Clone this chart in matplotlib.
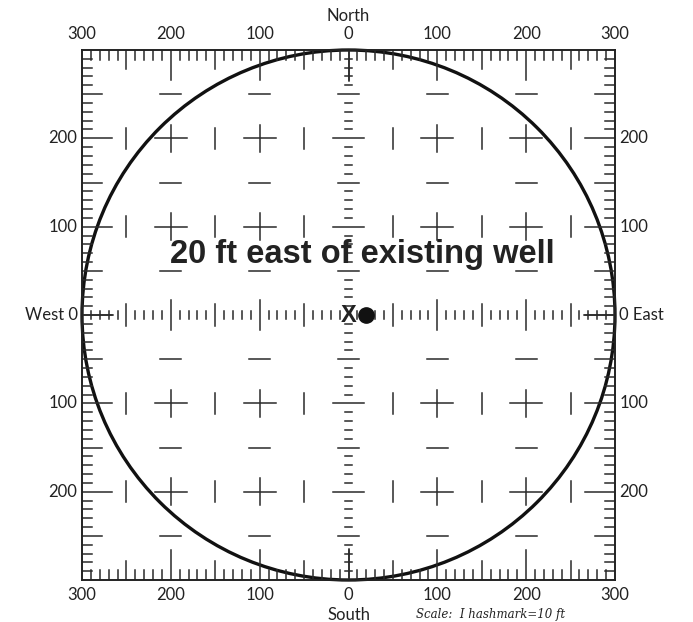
import numpy as np
import matplotlib
matplotlib.use("Agg")
import matplotlib.pyplot as plt

# axis labels (distance in ft from the existing well)
tick_pos = [-300, -200, -100, 0, 100, 200, 300]
top_labels = ["300", "200", "100", "0", "100", "200", "300"]
side_pos = [200, 100, 0, -100, -200]
left_labels = ["200", "100", "West 0", "100", "200"]
right_labels = ["200", "100", "0 East", "100", "200"]

radius = 300
existing_well = (0, 0)
new_well = (20, 0)
title = "20 ft east of existing well"
scale_note = "Scale:  I hashmark=10 ft"

fig = plt.figure(figsize=(6.93, 6.22), dpi=100)
ax = fig.add_axes([82 / 693, 42 / 622, 533 / 693, 530 / 622])
ax.set_xlim(-300, 300)
ax.set_ylim(-300, 300)
ax.set_xticks([])
ax.set_yticks([])
for s in ax.spines.values():
    s.set_linewidth(1.4)
    s.set_color("#222222")

ink = "#2a2a2a"
lw = 1.1

def tick_len(v, small, mid, big):
    if v % 100 == 0:
        return big
    if v % 50 == 0:
        return mid
    return small

hash_vals = np.arange(-290, 300, 10)

# hashmarks along the frame, pointing inward
for v in hash_vals:
    L = tick_len(v, 11, 22, 34)
    ax.plot([v, v], [300, 300 - L], color=ink, lw=lw)
    ax.plot([v, v], [-300, -300 + L], color=ink, lw=lw)
    ax.plot([-300, -300 + L], [v, v], color=ink, lw=lw)
    ax.plot([300, 300 - L], [v, v], color=ink, lw=lw)

# hashmarks along the north-south and east-west lines
for v in hash_vals:
    if v == 0:
        continue
    h = tick_len(v, 4.5, 12, 17)
    ax.plot([-h, h], [v, v], color=ink, lw=lw)
    ax.plot([v, v], [-h, h], color=ink, lw=lw)
for a, b in [(-300, -265), (265, 300)]:
    ax.plot([a, b], [0, 0], color=ink, lw=lw)
    ax.plot([0, 0], [a, b], color=ink, lw=lw)

# interior grid marks
for y in [-200, -100, 100, 200]:
    for x in [-200, -100, 100, 200]:
        ax.plot([x - 18, x + 18], [y, y], color=ink, lw=lw)
        ax.plot([x, x], [y - 15, y + 15], color=ink, lw=lw)
    for x in [-250, -150, -50, 50, 150, 250]:
        ax.plot([x, x], [y - 12, y + 12], color=ink, lw=lw)
for y in [-250, -150, -50, 50, 150, 250]:
    for x in [-200, -100, 100, 200]:
        ax.plot([x - 12, x + 12], [y, y], color=ink, lw=lw)

# 300 ft circle
circ = plt.Circle((0, 0), radius, fill=False, color="#111111", lw=2.4, clip_on=False)
ax.add_patch(circ)

# wells
ax.text(existing_well[0], existing_well[1], "X", fontsize=17, fontweight="bold",
        ha="center", va="center", color="#222222", family="Liberation Sans")
ax.plot(new_well[0], new_well[1], "o", color="#111111", markersize=11)

ax.text(15, 68, title, fontsize=23.5, fontweight="bold", ha="center", va="center",
        color="#222222", family="Liberation Sans")

lab = dict(fontsize=12, color="#222222", family="Lato")
for x, t in zip(tick_pos, top_labels):
    ax.text(x, 318, t, ha="center", va="center", **lab)
    ax.text(x, -317, t, ha="center", va="center", **lab)
for y, lt, rt in zip(side_pos, left_labels, right_labels):
    ax.text(-305, y, lt, ha="right", va="center", **lab)
    ax.text(305, y, rt, ha="left", va="center", **lab)
ax.text(0, 338, "North", ha="center", va="center", **lab)
ax.text(0, -340, "South", ha="center", va="center", **lab)
ax.text(160, -339, scale_note, ha="center", va="center", fontsize=8.5,
        style="italic", color="#222222", family="DejaVu Serif")

fig.savefig("out.png", dpi=100, facecolor="white")
